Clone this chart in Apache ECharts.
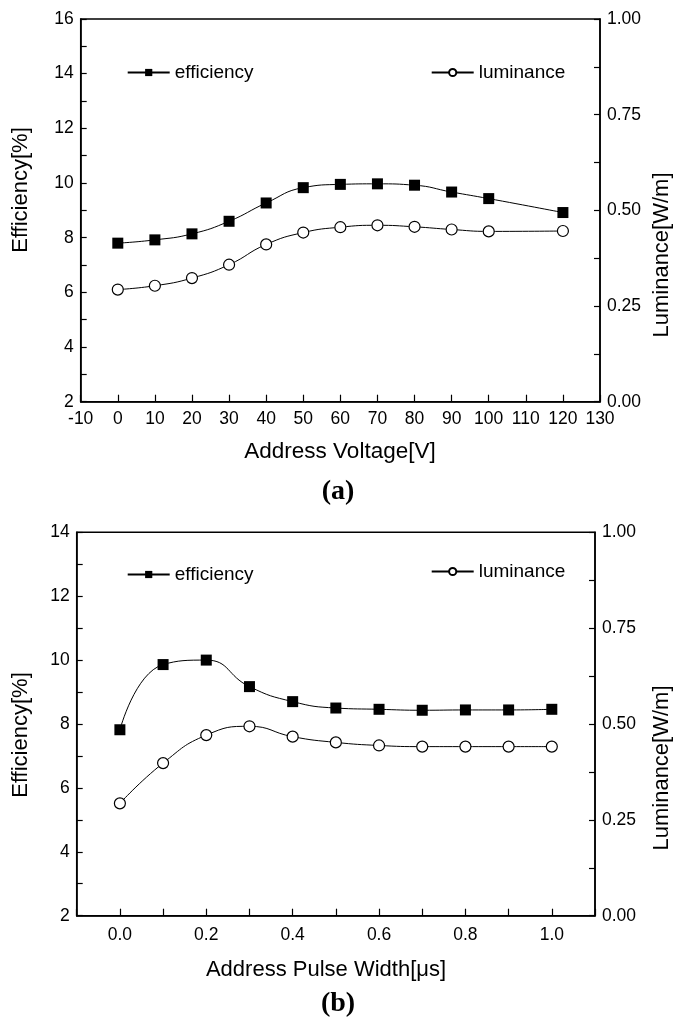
<!DOCTYPE html>
<html>
<head>
<meta charset="utf-8">
<script src="https://cdn.jsdelivr.net/npm/echarts@6/dist/echarts.min.js"></script>
<style>
html,body{margin:0;padding:0;background:#fff;}
#chart{width:676px;height:1022px;}
</style>
</head>
<body>
<div id="chart"></div>
<script>
// ---- data ----
const voltage = [0, 10, 20, 30, 40, 50, 60, 70, 80, 90, 100, 120];
const effA = [7.80, 7.92, 8.14, 8.60, 9.27, 9.83, 9.95, 9.97, 9.92, 9.67, 9.43, 8.92];
const lumA = [0.293, 0.303, 0.323, 0.358, 0.411, 0.442, 0.456, 0.461, 0.457, 0.450, 0.445, 0.446];
const pulse = [0.0, 0.1, 0.2, 0.3, 0.4, 0.5, 0.6, 0.7, 0.8, 0.9, 1.0];
const effB = [7.82, 9.86, 10.00, 9.17, 8.70, 8.50, 8.46, 8.43, 8.44, 8.44, 8.46];
const lumB = [0.293, 0.398, 0.471, 0.494, 0.467, 0.452, 0.444, 0.441, 0.441, 0.441, 0.441];
const seriesNames = ['efficiency', 'luminance'];
const xTitles = ['Address Voltage[V]', 'Address Pulse Width[\u03bcs]'];
const yLeftTitle = 'Efficiency[%]';
const yRightTitle = 'Luminance[W/m]';
const captions = ['(a)', '(b)'];

const FONT = '"Liberation Sans", Arial, Helvetica, sans-serif';
const pairs = (xs, ys) => xs.map((x, i) => [x, ys[i]]);

const chart = echarts.init(document.getElementById('chart'), null, {renderer: 'canvas'});

const axisLineStyle = {onZero: false, lineStyle: {color: '#000', width: 1.5}};
const tickLabel = {color: '#000', fontFamily: FONT, fontSize: 17.5};

function yLeft(gridIndex, max) {
  return {
    type: 'value', gridIndex, position: 'left', min: 2, max: max, interval: 2,
    axisLine: Object.assign({show: true}, axisLineStyle),
    axisTick: {show: true, inside: true, length: 6, lineStyle: {color: '#000', width: 1.2}},
    minorTick: {show: true, splitNumber: 2, length: 6, lineStyle: {color: '#000', width: 1.2}},
    splitLine: {show: false},
    axisLabel: Object.assign({margin: 7, showMinLabel: true, showMaxLabel: true}, tickLabel)
  };
}
function yRight(gridIndex) {
  return {
    type: 'value', gridIndex, position: 'right', min: 0, max: 1, interval: 0.25,
    axisLine: Object.assign({show: true}, axisLineStyle),
    axisTick: {show: true, inside: true, length: 6, lineStyle: {color: '#000', width: 1.2}},
    minorTick: {show: true, splitNumber: 2, length: 6, lineStyle: {color: '#000', width: 1.2}},
    splitLine: {show: false},
    axisLabel: Object.assign({margin: 7, showMinLabel: true, showMaxLabel: true,
      formatter: v => v.toFixed(2)}, tickLabel)
  };
}

function lineSeries(name, xIdx, yIdx, data, marker) {
  const isRect = marker === 'rect';
  return {
    name, type: 'line', xAxisIndex: xIdx, yAxisIndex: yIdx,
    data, smooth: 0.5, symbol: marker, symbolSize: 11,
    lineStyle: {color: '#000', width: 1},
    itemStyle: isRect ? {color: '#000', borderColor: '#000', borderWidth: 0}
                      : {color: '#fff', borderColor: '#000', borderWidth: 1.2},
    emphasis: {disabled: true},
    z: 3
  };
}

function legend(name, left, top, pad, w) {
  return {
    data: [name], left, top, orient: 'horizontal', padding: 0,
    itemWidth: w, itemHeight: 9, selectedMode: false,
    textStyle: {color: '#000', fontFamily: FONT, fontSize: 19, padding: [0, 0, 0, pad]}
  };
}

const option = {
  backgroundColor: '#fff',
  animation: false,
  grid: [
    {left: 80.7, right: 76, top: 19, height: 382.7, show: true, borderColor: '#000', borderWidth: 1.5, containLabel: false},
    {left: 76.7, right: 81, top: 532.3, height: 383.4, show: true, borderColor: '#000', borderWidth: 1.5, containLabel: false}
  ],
  xAxis: [
    {
      type: 'value', gridIndex: 0, min: -10, max: 130, interval: 10,
      axisLine: Object.assign({show: true}, axisLineStyle),
      axisTick: {show: true, inside: true, length: 7, lineStyle: {color: '#000', width: 1.2}},
      splitLine: {show: false},
      axisLabel: Object.assign({margin: 8, showMinLabel: true, showMaxLabel: true}, tickLabel)
    },
    {
      type: 'value', gridIndex: 1, min: -0.1, max: 1.1, interval: 0.1,
      axisLine: Object.assign({show: true}, axisLineStyle),
      axisTick: {show: true, inside: true, length: 7, lineStyle: {color: '#000', width: 1.2}},
      splitLine: {show: false},
      axisLabel: Object.assign({margin: 10, showMinLabel: true, showMaxLabel: true,
        formatter: v => {
          const k = Math.round(v * 10);
          return (k >= 0 && k <= 10 && k % 2 === 0) ? (k / 10).toFixed(1) : '';
        }}, tickLabel)
    }
  ],
  yAxis: [yLeft(0, 16), yRight(0), yLeft(1, 14), yRight(1)],
  legend: [
    legend(seriesNames[0], 126.7, 63, 0, 42),
    legend(seriesNames[1], 430.7, 63, 0, 42),
    legend(seriesNames[0], 126.7, 565, 0, 42),
    legend(seriesNames[1], 430.7, 562, 0, 42)
  ],
  series: [
    lineSeries(seriesNames[0], 0, 0, pairs(voltage, effA), 'rect'),
    lineSeries(seriesNames[1], 0, 1, pairs(voltage, lumA), 'circle'),
    lineSeries(seriesNames[0], 1, 2, pairs(pulse, effB), 'rect'),
    lineSeries(seriesNames[1], 1, 3, pairs(pulse, lumB), 'circle')
  ],
  graphic: [
    {type: 'text', x: 340, y: 452, style: {text: xTitles[0], font: '22.5px ' + FONT, fill: '#000', align: 'center', verticalAlign: 'middle'}},
    {type: 'text', x: 326, y: 970, style: {text: xTitles[1], font: '22px ' + FONT, fill: '#000', align: 'center', verticalAlign: 'middle'}},
    {type: 'text', x: 21, y: 190, rotation: Math.PI / 2, style: {text: yLeftTitle, font: '22px ' + FONT, fill: '#000', align: 'center', verticalAlign: 'middle'}},
    {type: 'text', x: 21, y: 735, rotation: Math.PI / 2, style: {text: yLeftTitle, font: '22px ' + FONT, fill: '#000', align: 'center', verticalAlign: 'middle'}},
    {type: 'text', x: 662, y: 255, rotation: Math.PI / 2, style: {text: yRightTitle, font: '22px ' + FONT, fill: '#000', align: 'center', verticalAlign: 'middle'}},
    {type: 'text', x: 662, y: 768, rotation: Math.PI / 2, style: {text: yRightTitle, font: '22px ' + FONT, fill: '#000', align: 'center', verticalAlign: 'middle'}},
    {type: 'text', x: 338, y: 492, style: {text: captions[0], font: 'bold 28px "Liberation Serif", "Times New Roman", serif', fill: '#000', align: 'center', verticalAlign: 'middle'}},
    {type: 'text', x: 338, y: 1004, style: {text: captions[1], font: 'bold 28px "Liberation Serif", "Times New Roman", serif', fill: '#000', align: 'center', verticalAlign: 'middle'}}
  ]
};
chart.setOption(option);
</script>
</body>
</html>
